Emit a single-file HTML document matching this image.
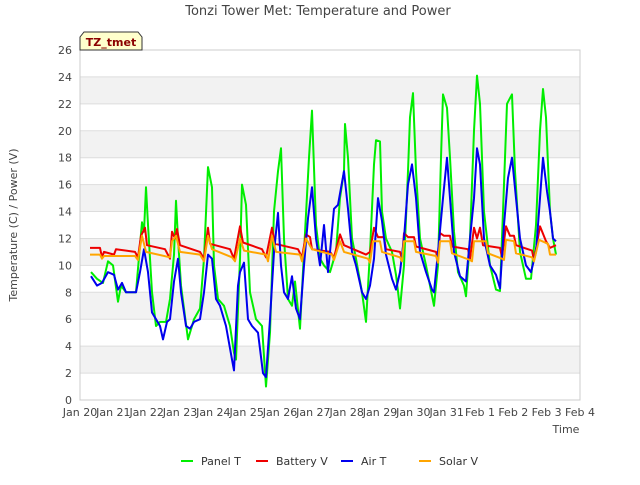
<!DOCTYPE html>
<html><head><meta charset="utf-8"><style>
body{margin:0;background:#fff;font-family:"Liberation Sans","DejaVu Sans",sans-serif}
svg text{font-family:"DejaVu Sans","Liberation Sans",sans-serif}
</style></head><body>
<svg id="chart" width="640" height="480" viewBox="0 0 640 480" xmlns="http://www.w3.org/2000/svg">
<rect width="640" height="480" fill="#fff"/>
<text x="318" y="15" text-anchor="middle" font-size="13" fill="#444">Tonzi Tower Met: Temperature and Power</text>
<g id="bands"></g><g id="grid"></g>
<rect x="80" y="50" width="500" height="350" fill="none" stroke="#ccc"/>
<g id="yticks"></g><g id="xticks"></g>
<text transform="translate(17,225) rotate(-90)" text-anchor="middle" font-size="11" fill="#444">Temperature (C) / Power (V)</text>
<text x="566" y="433" text-anchor="middle" font-size="11" fill="#444">Time</text>
<g id="series"></g>
<g>
<path d="M80,50 L80,37 L84,32 L138,32 L142,37 L142,50 Z" fill="#ffffcc" stroke="#333"/>
<text x="111" y="46" text-anchor="middle" font-size="11" font-weight="bold" fill="#8b0000">TZ_tmet</text>
</g>
<g id="legend"></g>
</svg>
<script>
const yTicks=[0,2,4,6,8,10,12,14,16,18,20,22,24,26];
const xTickLabels=["Jan 20","Jan 21","Jan 22","Jan 23","Jan 24","Jan 25","Jan 26","Jan 27","Jan 28","Jan 29","Jan 30","Jan 31","Feb 1","Feb 2","Feb 3","Feb 4"];
const seriesNames=["Panel T","Battery V","Air T","Solar V"];
const seriesColors=["#00ee00","#ee0000","#0000ee","#ffa500"];
const panelT_t=[.33,.51,.69,.84,.99,1.14,1.23,1.38,1.68,1.8,1.86,1.92,1.98,2.04,2.16,2.28,2.4,2.58,2.7,2.82,2.88,2.94,3.03,3.24,3.42,3.6,3.72,3.84,3.96,4.02,4.14,4.32,4.5,4.62,4.68,4.8,4.86,4.98,5.1,5.28,5.46,5.58,5.7,5.82,5.94,6.03,6.12,6.24,6.36,6.45,6.6,6.72,6.87,6.96,7.08,7.2,7.32,7.5,7.68,7.8,7.92,7.95,8.04,8.16,8.28,8.46,8.58,8.7,8.82,8.88,9.0,9.06,9.18,9.36,9.48,9.6,9.72,9.84,9.9,9.99,10.08,10.2,10.38,10.5,10.62,10.74,10.83,10.89,11.01,11.1,11.22,11.34,11.52,11.58,11.7,11.82,11.91,12.0,12.12,12.3,12.48,12.6,12.72,12.81,12.96,13.05,13.2,13.38,13.53,13.68,13.8,13.89,13.98,14.1,14.19,14.28];
const panelT_v=[9.5,9.0,8.7,10.3,10.0,7.3,8.5,8.0,8.0,11.5,13.2,12.5,15.8,13,8,5.5,5.8,5.8,7.5,10.8,14.8,12,8.5,4.5,6,6.8,10.5,17.3,15.8,10,7.5,7,5.5,3.5,3,10.5,16,14.5,8,6,5.5,1,5,14,17,18.7,12,7.5,7,8.8,5.3,11,18,21.5,13,10.5,10,9.5,11,15,17,20.5,18,12,10.5,8,5.8,11,17.5,19.3,19.2,14,12,11,9.3,6.8,10,17,21,22.8,17,12,10,8.5,7.0,10,18,22.7,21.7,18,12.5,9.5,8.5,7.7,12,20,24.1,22,14,10,8.2,8.1,16,22,22.7,17,11,9.0,9,13,20,23.1,21,14,12,10.8];
const batV_t=[.3,.6,.66,.72,1.02,1.08,1.65,1.74,1.83,1.95,2.01,2.55,2.7,2.76,2.85,2.91,3.0,3.6,3.72,3.84,3.9,4.5,4.62,4.8,4.89,5.46,5.58,5.76,5.85,6.54,6.66,6.78,6.9,6.96,7.5,7.62,7.8,7.92,8.58,8.7,8.82,8.94,9.12,9.18,9.6,9.66,9.72,9.84,10.02,10.08,10.68,10.74,10.8,10.92,11.1,11.16,11.64,11.7,11.82,11.91,12.0,12.09,12.6,12.66,12.78,12.9,13.02,13.08,13.56,13.62,13.8,13.98,14.1,14.28];
const batV_v=[11.3,11.3,10.6,11.0,10.8,11.2,11.0,10.6,12.2,12.8,11.5,11.2,10.5,12.5,12.0,12.7,11.5,11.0,10.5,12.8,11.6,11.2,10.5,12.9,11.7,11.2,10.6,12.8,11.6,11.2,10.6,12.3,12.1,11.2,11.0,10.6,12.3,11.5,10.8,11.0,12.8,12.1,12.1,11.2,11.0,10.5,12.4,12.1,12.1,11.4,11.0,10.4,12.4,12.2,12.2,11.4,11.2,10.5,12.8,12.0,12.8,11.5,11.3,10.6,12.9,12.2,12.2,11.5,11.1,10.4,12.9,11.8,11.3,11.5];
const airT_t=[.33,.51,.66,.84,1.02,1.14,1.26,1.38,1.68,1.8,1.92,2.04,2.16,2.28,2.4,2.49,2.61,2.7,2.82,2.94,3.03,3.18,3.3,3.42,3.6,3.72,3.84,3.96,4.08,4.2,4.38,4.56,4.62,4.74,4.8,4.92,5.04,5.16,5.34,5.49,5.58,5.7,5.82,5.94,6.03,6.12,6.24,6.36,6.48,6.6,6.72,6.84,6.96,7.08,7.2,7.32,7.44,7.5,7.62,7.74,7.92,8.04,8.16,8.28,8.46,8.58,8.7,8.82,8.94,9.06,9.18,9.36,9.48,9.6,9.72,9.84,9.96,10.08,10.2,10.38,10.56,10.62,10.74,10.89,11.01,11.1,11.22,11.4,11.58,11.7,11.82,11.91,12.0,12.12,12.3,12.48,12.6,12.72,12.84,12.96,13.08,13.2,13.38,13.53,13.68,13.8,13.89,14.01,14.1,14.19,14.28];
const airT_v=[9.2,8.5,8.7,9.5,9.3,8.2,8.7,8.0,8.0,9.5,11.2,9.5,6.5,6.0,5.5,4.5,5.8,6.0,8.8,10.5,8,5.5,5.3,5.8,6.0,8.0,10.8,10.5,7.5,7.0,5.5,3,2.2,8.5,9.5,10.2,6,5.5,5,2,1.7,6,11,13.9,10,8,7.5,9.2,6.8,6.0,10,13.5,15.8,12,10,13,9.5,11,14.2,14.5,17,14.2,11,10,8,7.5,8.5,10.5,15.0,13.3,10.8,9.0,8.2,9.5,12,16,17.5,15,11,9.5,8.2,8.0,11,15,18.0,15,11,9.2,8.8,12,15,18.7,17.5,12,10,9.3,8.3,13,16.5,18,15,12,10,9.5,11,15,18.0,15.5,14,12,11.8];
const solV_t=[.3,.6,.66,.72,1.65,1.74,1.86,1.98,2.7,2.76,2.88,3.0,3.6,3.72,3.84,3.96,4.56,4.65,4.8,4.92,5.58,5.64,5.76,5.88,6.6,6.66,6.78,6.96,7.56,7.62,7.8,7.92,8.64,8.7,8.79,9.0,9.06,9.6,9.66,9.72,10.02,10.08,10.68,10.74,10.8,11.1,11.16,11.7,11.76,11.82,12.18,12.24,12.66,12.72,12.78,13.02,13.08,13.56,13.62,13.77,14.04,14.1,14.28];
const solV_v=[10.8,10.8,10.5,10.7,10.7,10.4,12.2,11.0,10.6,11.8,12.2,11.0,10.8,10.3,12.2,11.2,10.6,10.3,12.0,11.1,10.8,10.3,12.2,11.0,10.8,10.3,12.0,11.2,10.8,10.4,11.8,11.0,10.5,10.2,11.8,11.8,11.0,10.6,10.3,11.8,11.8,11.0,10.7,10.2,11.8,11.8,10.9,10.4,10.3,11.8,11.8,10.9,10.5,10.4,11.9,11.8,10.9,10.6,10.3,11.9,11.6,10.8,10.8];

const X0=80,X1=580,Y0=400,Y1=50;
const xs=d=>X0+d*(X1-X0)/15;
const ys=v=>Y0-v*(Y0-Y1)/26;
const NS="http://www.w3.org/2000/svg";
function mk(tag,attrs,parent){const e=document.createElementNS(NS,tag);for(const k in attrs)e.setAttribute(k,attrs[k]);parent.appendChild(e);return e;}
const bands=document.getElementById('bands'),grid=document.getElementById('grid');
for(let v=2;v<26;v+=4){
  const r=mk('rect',{x:X0,y:ys(v+2),width:X1-X0,height:ys(v)-ys(v+2),fill:'#f2f2f2'},bands);
  
  
}
const yt=document.getElementById('yticks');
yTicks.forEach(v=>{
  const l=mk('line',{x1:X0,x2:X1,y1:ys(v),y2:ys(v),stroke:'#dddddd'},grid);
  
  
  const t=mk('text',{x:X0-8,y:ys(v)+4,'text-anchor':'end','font-size':11,fill:'#444'},yt);
  
  
  t.textContent=v;
});
const xt=document.getElementById('xticks');
xTickLabels.forEach((s,i)=>{
  const t=mk('text',{x:xs(i),y:416,'text-anchor':'middle','font-size':11,fill:'#444'},xt);
  
  
  t.textContent=s;
});
const ser=document.getElementById('series');
const data=[[panelT_t,panelT_v],[batV_t,batV_v],[airT_t,airT_v],[solV_t,solV_v]];
const slugs=['panel-t-line','battery-v-line','air-t-line','solar-v-line'];
data.forEach((d,i)=>{
  const pts=d[0].map((t,j)=>xs(t).toFixed(1)+','+ys(d[1][j]).toFixed(1)).join(' ');
  const p=mk('polyline',{points:pts,fill:'none',stroke:seriesColors[i],'stroke-width':2,'stroke-linejoin':'round'},ser);
  
  
});
const lg=document.getElementById('legend');
const lx=[181,256,341,419];
seriesNames.forEach((n,i)=>{
  const g=mk('g',{},lg);
  
  
  mk('line',{x1:lx[i],x2:lx[i]+12,y1:461,y2:461,stroke:seriesColors[i],'stroke-width':2},g);
  const t=mk('text',{x:lx[i]+20,y:465,'font-size':11,fill:'#333'},g);
  t.textContent=n;
});
</script>
</body></html>
